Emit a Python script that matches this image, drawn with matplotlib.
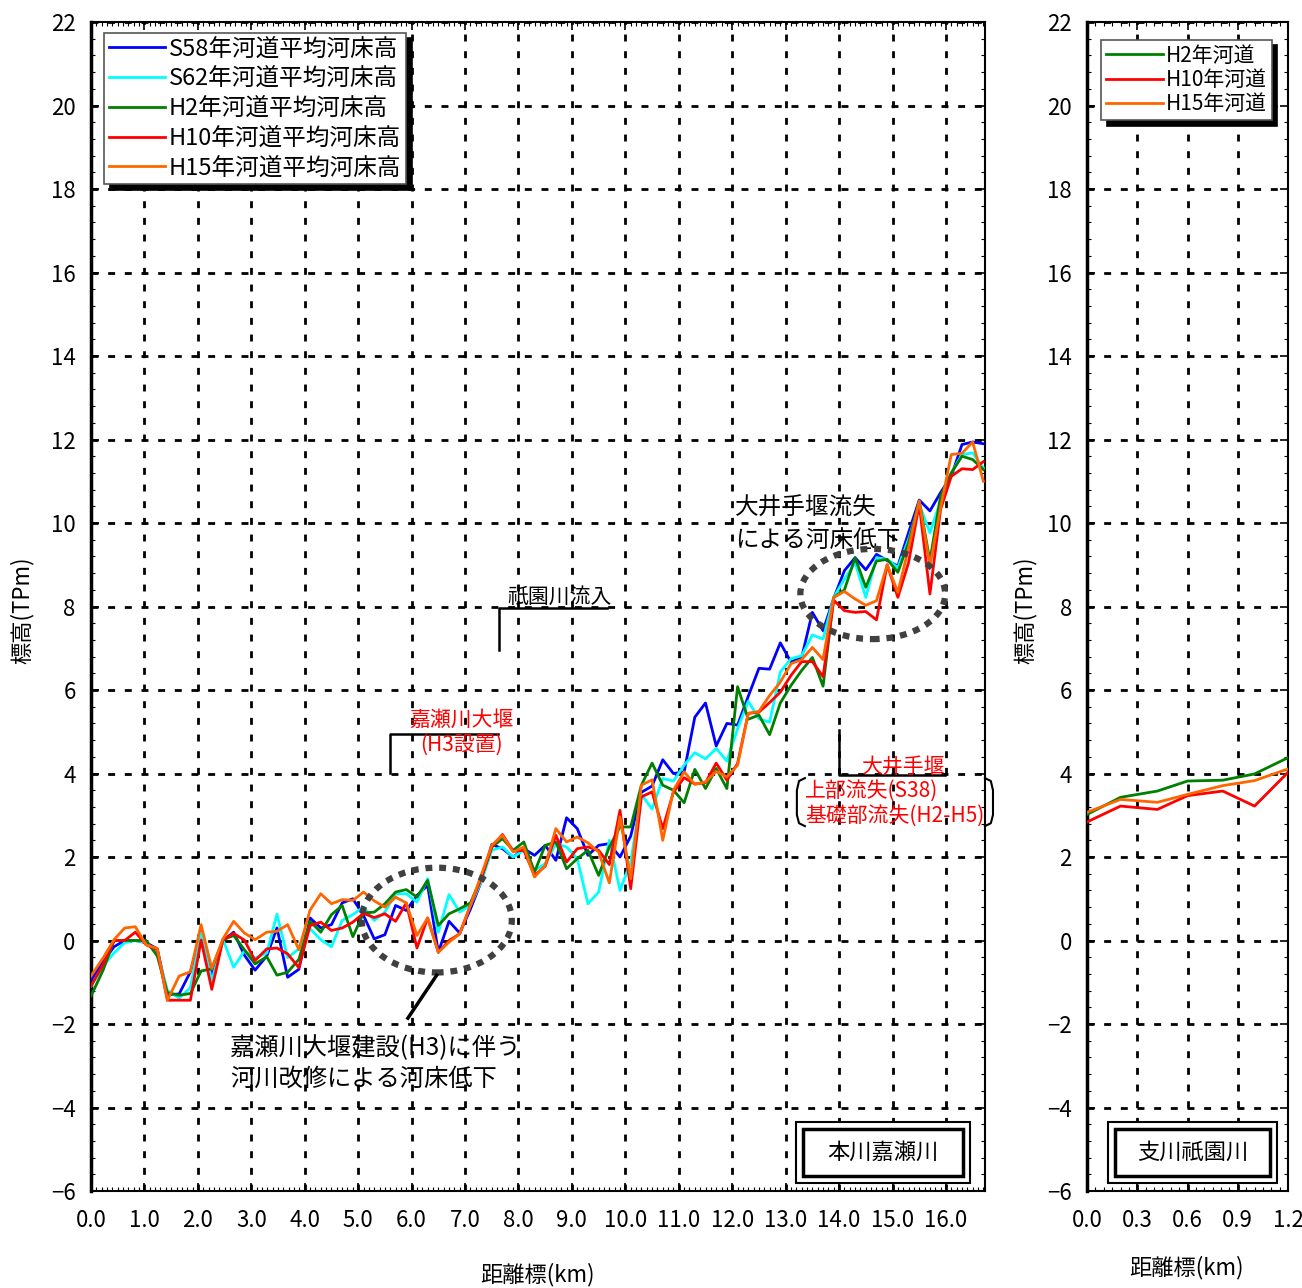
import numpy as np
import matplotlib
matplotlib.use('Agg')
import matplotlib.pyplot as plt
from matplotlib.patches import Ellipse, Rectangle
from matplotlib.ticker import MultipleLocator, FormatStrFormatter, FuncFormatter

plt.rcParams['font.family'] = ['Noto Sans CJK JP', 'DejaVu Sans']

# 本川嘉瀬川 距離標(km)
dist_main = [0.0, 0.23, 0.43, 0.63, 0.83, 1.03, 1.24, 1.43, 1.65, 1.86,
             2.06, 2.26, 2.47, 2.67, 2.87, 3.07, 3.29, 3.48, 3.68, 3.89,
             4.1, 4.3, 4.5, 4.7, 4.9, 5.1, 5.3, 5.5, 5.7, 5.9,
             6.1, 6.3, 6.5, 6.7, 6.9, 7.1, 7.3, 7.5, 7.7, 7.9,
             8.1, 8.3, 8.5, 8.7, 8.9, 9.1, 9.3, 9.5, 9.7, 9.9,
             10.1, 10.3, 10.5, 10.7, 10.9, 11.1, 11.3, 11.5, 11.7, 11.9,
             12.1, 12.3, 12.5, 12.7, 12.9, 13.1, 13.3, 13.5, 13.7, 13.9,
             14.1, 14.3, 14.5, 14.7, 14.9, 15.1, 15.3, 15.5, 15.7, 15.9,
             16.1, 16.3, 16.5, 16.7]

s58 = [-0.95, -0.5, -0.15, 0.0, 0.0, -0.05, -0.2, -1.3, -1.28, -0.75,
       0.2, -0.85, 0.0, 0.2, -0.35, -0.71, -0.37, 0.3, -0.88, -0.69,
       0.54, 0.3, 0.38, 0.9, 1.0, 0.6, 0.04, 0.14, 0.84, 0.72,
       1.08, 1.32, -0.28, 0.46, 0.18, 0.75, 1.4, 2.3, 2.2, 2.0,
       2.2, 2.04, 2.28, 1.92, 2.94, 2.68, 2.04, 2.28, 2.32, 2.0,
       2.5, 3.55, 3.7, 4.33, 4.0, 4.04, 5.35, 5.69, 4.66, 5.2,
       5.16, 5.85, 6.52, 6.5, 7.13, 6.67, 6.78, 7.86, 7.42, 8.2,
       8.86, 9.17, 8.88, 9.25, 9.1, 8.97, 9.77, 10.55, 10.29, 10.73,
       11.12, 11.88, 11.94, 11.9]

s62 = [-1.1, -0.6, -0.3, -0.05, 0.0, -0.05, -0.3, -1.2, -1.38, -1.13,
       0.18, -0.97, 0.02, -0.64, -0.25, -0.42, -0.3, 0.63, -0.41, -0.2,
       0.28, 0.02, -0.15, 0.48, 0.62, 0.8, 0.48, 0.68, 1.12, 1.12,
       0.92, 1.48, 0.2, 1.1, 0.68, 0.84, 1.4, 2.16, 2.24, 2.0,
       2.16, 1.68, 1.84, 2.32, 2.24, 1.96, 0.88, 1.16, 2.4, 1.2,
       1.88, 3.5, 3.15, 3.88, 3.82, 4.2, 4.5, 4.35, 4.6, 4.3,
       5.07, 5.73, 5.31, 5.23, 6.43, 6.75, 6.82, 7.32, 7.22, 8.22,
       8.66, 9.05, 8.22, 9.17, 9.13, 8.93, 9.61, 10.45, 9.77, 10.53,
       11.2, 11.64, 11.68, 11.32]

h2 = [-1.33, -0.7, 0.0, 0.0, 0.0, 0.0, -0.37, -1.25, -1.31, -1.27,
      -0.73, -0.68, 0.02, 0.12, -0.22, -0.56, -0.39, -0.83, -0.76, -0.45,
      0.46, 0.2, 0.62, 0.84, 0.09, 0.66, 0.68, 0.88, 1.16, 1.22,
      1.04, 1.44, 0.36, 0.64, 0.76, 0.9, 1.48, 2.24, 2.44, 2.16,
      2.36, 1.64, 2.28, 2.36, 1.72, 1.96, 2.16, 1.56, 2.24, 2.72,
      2.72, 3.72, 4.25, 3.72, 3.6, 3.3, 4.1, 3.64, 4.12, 3.64,
      6.08, 5.3, 5.4, 4.93, 5.69, 6.11, 6.47, 6.78, 6.09, 8.22,
      8.4, 9.17, 8.46, 9.09, 9.13, 8.82, 9.53, 10.53, 9.09, 10.65,
      11.2, 11.6, 11.52, 11.28]

h10 = [-1.09, -0.57, 0.0, 0.0, 0.2, -0.1, -0.22, -1.43, -1.43, -1.43,
       0.01, -1.17, 0.02, 0.17, 0.01, -0.48, -0.2, -0.18, -0.32, -0.65,
       0.36, 0.44, 0.24, 0.3, 0.44, 0.65, 0.55, 0.64, 0.46, 0.9,
       -0.18, 0.54, -0.28, 0.0, 0.16, 0.84, 1.48, 2.24, 2.54, 2.14,
       2.16, 1.56, 1.78, 2.52, 1.88, 2.2, 2.24, 2.16, 1.82, 3.12,
       1.24, 3.44, 3.56, 2.68, 3.55, 3.9, 3.75, 3.78, 4.25, 3.84,
       4.24, 5.44, 5.47, 5.7, 5.95, 6.35, 6.68, 6.68, 6.32, 8.15,
       7.9, 7.86, 7.88, 7.68, 9.0, 8.22, 9.05, 10.45, 8.3, 10.33,
       11.12, 11.3, 11.28, 11.47]

h15 = [-0.85, -0.41, 0.02, 0.3, 0.33, -0.1, -0.19, -1.43, -0.85, -0.75,
       0.38, -0.67, 0.04, 0.46, 0.18, 0.02, 0.2, 0.22, 0.38, -0.22,
       0.73, 1.12, 0.88, 0.98, 0.96, 1.16, 0.95, 0.8, 1.04, 0.9,
       0.12, 0.54, -0.28, -0.04, 0.16, 0.84, 1.56, 2.28, 2.52, 2.12,
       2.24, 1.52, 1.8, 2.68, 2.36, 2.48, 2.34, 2.12, 1.38, 2.96,
       1.48, 3.72, 3.85, 2.4, 3.6, 4.04, 3.74, 3.8, 4.05, 3.92,
       4.2, 5.44, 5.49, 5.87, 6.19, 6.63, 6.73, 7.02, 6.73, 8.22,
       8.36, 8.18, 8.03, 8.14, 9.0, 8.34, 9.4, 10.53, 8.97, 10.37,
       11.64, 11.67, 11.94, 11.0]

labels_main = ['S58年河道平均河床高', 'S62年河道平均河床高', 'H2年河道平均河床高',
               'H10年河道平均河床高', 'H15年河道平均河床高']
colors_main = ['#0000ff', '#00ffff', '#008000', '#ff0000', '#ff6600']

# 支川祇園川
dist_sub = [0.0, 0.2, 0.42, 0.6, 0.81, 1.0, 1.2]
h2_sub = [3.02, 3.43, 3.58, 3.82, 3.84, 3.99, 4.38]
h10_sub = [2.84, 3.22, 3.14, 3.47, 3.58, 3.22, 4.03]
h15_sub = [3.07, 3.38, 3.31, 3.5, 3.71, 3.83, 4.11]
labels_sub = ['H2年河道', 'H10年河道', 'H15年河道']
colors_sub = ['#008000', '#ff0000', '#ff6600']


def minus_fmt(v, pos):
    return ('%d' % v).replace('-', '\u2212')


def style_axes(a, xmax, xmajor, xminor):
    a.set_xlim(0, xmax)
    a.set_ylim(-6, 22)
    a.xaxis.set_major_locator(MultipleLocator(xmajor))
    a.xaxis.set_minor_locator(MultipleLocator(xminor))
    a.xaxis.set_major_formatter(FormatStrFormatter('%.1f'))
    a.yaxis.set_major_locator(MultipleLocator(2))
    a.yaxis.set_minor_locator(MultipleLocator(0.4))
    a.yaxis.set_major_formatter(FuncFormatter(minus_fmt))
    a.grid(True, which='major', color='black', linestyle=(0, (2.5, 3.5)), linewidth=2)
    a.set_axisbelow(True)
    a.tick_params(which='both', direction='in', top=True, right=True, labelsize=16)
    a.tick_params(which='major', length=6, width=1.2)
    a.tick_params(which='minor', length=3, width=0.8)
    a.tick_params(axis='x', pad=13)
    a.tick_params(axis='y', pad=11)
    for sp in a.spines.values():
        sp.set_linewidth(1.5)
    a.spines['left'].set_linewidth(2.5)


def double_box(a, x0, y0, w, h, dx, dy, text):
    a.add_patch(Rectangle((x0, y0), w, h, transform=a.transAxes, fill=True,
                          fc='white', ec='black', lw=1.5, zorder=5))
    a.add_patch(Rectangle((x0 + dx, y0 + dy), w - 2 * dx, h - 2 * dy, transform=a.transAxes,
                          fill=False, ec='black', lw=2.5, zorder=6))
    a.text(x0 + w / 2, y0 + h / 2, text, transform=a.transAxes, ha='center', va='center',
           fontsize=16, zorder=7)


fig = plt.figure(figsize=(13.02, 12.88), dpi=100)
ax = fig.add_axes([0.0699, 0.0753, 0.6866, 0.9076])
ax2 = fig.add_axes([0.8349, 0.0753, 0.1544, 0.9076])

style_axes(ax, 16.73, 1.0, 0.1)
style_axes(ax2, 1.2, 0.3, 0.05)

for ys, lab, col in zip([s58, s62, h2, h10, h15], labels_main, colors_main):
    ax.plot(dist_main, ys, color=col, lw=2, label=lab, zorder=3)

for ys, lab, col in zip([h2_sub, h10_sub, h15_sub], labels_sub, colors_sub):
    ax2.plot(dist_sub, ys, color=col, lw=2, label=lab, zorder=3)

leg = ax.legend(loc='upper left', bbox_to_anchor=(0.0145, 0.991), fontsize=17,
                fancybox=False, framealpha=1, edgecolor='#555555',
                shadow={'ox': 4, 'oy': -4, 'color': 'black', 'alpha': 1},
                handlelength=2.4, labelspacing=0.29, borderpad=0.2,
                handletextpad=0.15, borderaxespad=0)
leg.get_frame().set_linewidth(1.2)

leg2 = ax2.legend(loc='upper left', bbox_to_anchor=(0.07, 0.985), fontsize=15,
                  fancybox=False, framealpha=1, edgecolor='#555555',
                  shadow={'ox': 4, 'oy': -4, 'color': 'black', 'alpha': 1},
                  handlelength=2.7, labelspacing=0.1, borderpad=0.25,
                  handletextpad=0.15, borderaxespad=0)
leg2.get_frame().set_linewidth(1.2)

# 注記
ax.plot([7.63, 7.63, 9.66], [6.96, 7.96, 7.96], color='black', lw=1.8, zorder=4)
ax.text(7.8, 7.98, '祇園川流入', fontsize=15, ha='left', va='bottom', zorder=4)

ax.plot([5.6, 5.6, 7.62], [4.01, 4.95, 4.95], color='black', lw=1.8, zorder=4)
ax.text(6.94, 5.28, '嘉瀬川大堰', fontsize=15, color='red', ha='center', va='center', zorder=4)
ax.text(6.94, 4.68, '(H3設置)', fontsize=15, color='red', ha='center', va='center', zorder=4)

ax.plot([14.0, 14.0, 15.98], [5.04, 3.96, 3.96], color='black', lw=1.8, zorder=4)
ax.text(15.98, 4.16, '大井手堰', fontsize=15, color='red', ha='right', va='center', zorder=4)
ax.text(13.36, 3.58, '上部流失(S38)', fontsize=15, color='red', ha='left', va='center', zorder=4)
ax.text(13.36, 2.98, '基礎部流失(H2-H5)', fontsize=15, color='red', ha='left', va='center',
        zorder=4, clip_on=False)
ax.plot([13.36, 13.25, 13.21, 13.21, 13.25, 13.36], [3.89, 3.82, 3.6, 3.01, 2.81, 2.74],
        color='black', lw=1.5, zorder=4, clip_on=False)
ax.plot([16.73, 16.84, 16.88, 16.88, 16.84, 16.73], [3.89, 3.82, 3.6, 3.01, 2.81, 2.74],
        color='black', lw=1.5, zorder=4, clip_on=False)

ax.text(12.05, 10.36, '大井手堰流失', fontsize=17, ha='left', va='center', zorder=4)
ax.text(12.05, 9.59, 'による河床低下', fontsize=17, ha='left', va='center', zorder=4)
ax.add_patch(Ellipse((14.63, 8.30), 2.71, 2.16, fill=False, ec='#404040', lw=4.5,
                     ls=(0, (1.1, 1.1)), zorder=4))

ax.add_patch(Ellipse((6.47, 0.49), 2.81, 2.51, fill=False, ec='#404040', lw=4.5,
                     ls=(0, (1.1, 1.1)), zorder=4))
ax.plot([6.47, 5.93], [-0.83, -1.86], color='black', lw=2.5, zorder=4)
ax.text(2.6, -2.57, '嘉瀬川大堰建設(H3)に伴う', fontsize=17.5, ha='left', va='center', zorder=4)
ax.text(2.6, -3.32, '河川改修による河床低下', fontsize=17.5, ha='left', va='center', zorder=4)

double_box(ax, 0.789, 0.0068, 0.194, 0.052, 0.0078, 0.006, '本川嘉瀬川')
double_box(ax2, 0.1045, 0.0068, 0.8405, 0.052, 0.035, 0.006, '支川祇園川')

fig.text(22 / 1302, 1 - 610 / 1288, '標高(TPm)', rotation=90, ha='center', va='center', fontsize=16)
fig.text(1025 / 1302, 1 - 610 / 1288, '標高(TPm)', rotation=90, ha='center', va='center', fontsize=16)
fig.text(537 / 1302, 1 - 1275 / 1288, '距離標(km)', ha='center', va='center', fontsize=16)
fig.text(1186 / 1302, 1 - 1268 / 1288, '距離標(km)', ha='center', va='center', fontsize=16)

fig.savefig('out.png', dpi=100)
